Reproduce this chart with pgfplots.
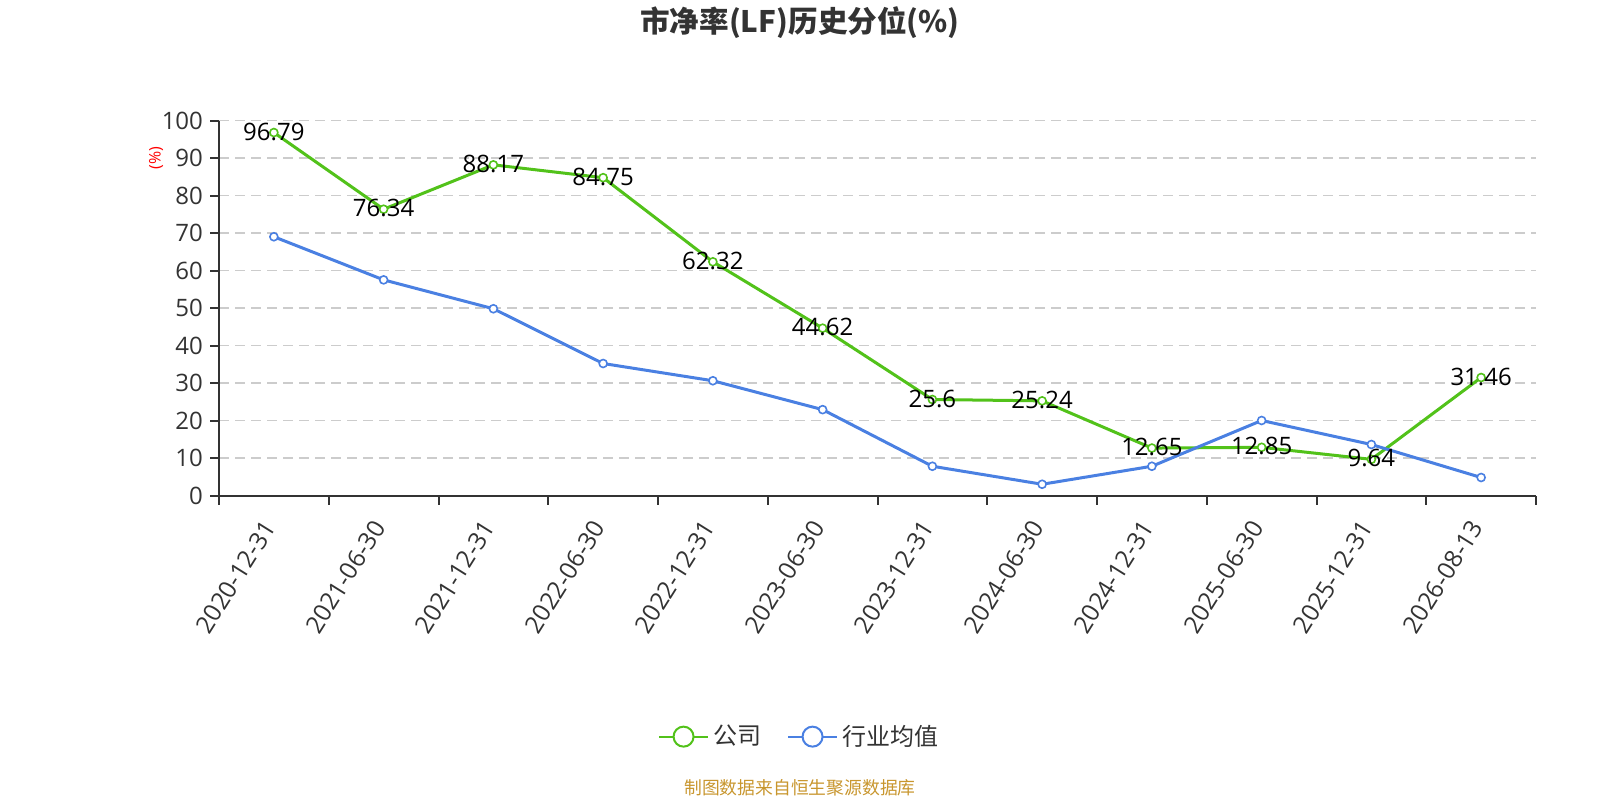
\documentclass[border=0pt]{standalone}
\usepackage{fontspec}
\setmainfont{Open Sans}
\newfontfamily\cjk{Noto Sans CJK SC}
\usepackage{pgfplots}
\pgfplotsset{compat=1.18}
\definecolor{cgreen}{RGB}{82,194,26}
\definecolor{cblue}{RGB}{74,128,226}
\definecolor{axgray}{RGB}{51,51,51}
\definecolor{gridgray}{RGB}{204,204,204}
\definecolor{foot}{RGB}{200,150,46}
\begin{document}
\begin{tikzpicture}
\begin{axis}[
  at={(109.5pt,152.25pt)}, anchor=south west,
  scale only axis, width=658.5pt, height=187.5pt,
  xmin=-0.5, xmax=11.5, ymin=0, ymax=100,
  axis x line*=bottom, axis y line*=left,
  axis line style={axgray, line width=1pt, -},
  tick align=outside,
  xtick={0,...,11},
  xticklabels={2020-12-31,2021-06-30,2021-12-31,2022-06-30,2022-12-31,2023-06-30,2023-12-31,2024-06-30,2024-12-31,2025-06-30,2025-12-31,2026-08-13},
  x tick label style={rotate=58, anchor=east, xshift=-5.5pt, yshift=-3pt, font=\fontsize{12.2}{15}\selectfont, text=axgray},
  major x tick style={draw=none},
  minor xtick={-0.5,0.5,...,11.5},
  minor x tick style={axgray, line width=1pt},
  minor tick length=4.5pt,
  ytick={0,10,...,100},
  y tick label style={font=\fontsize{12}{14}\selectfont, text=axgray},
  major y tick style={axgray, line width=1pt},
  major tick length=4.5pt,
  ymajorgrids,
  major grid style={gridgray, line width=0.6pt, dash pattern=on 5pt off 3pt},
  /pgf/number format/assume math mode=true,
  point meta=explicit symbolic,
  nodes near coords,
  every node near coord/.append style={anchor=center, yshift=0.5pt, font=\fontsize{12}{14}\selectfont, text=black},
  legend style={at={(0.4412,-0.643)}, anchor=center, legend columns=2, draw=none, fill=none,
    font=\cjk\fontsize{12}{14}\selectfont, text=axgray,
    /tikz/every even column/.append style={column sep=11pt}},
  legend image code/.code={
    \draw[#1, line width=1pt] (0pt,0pt) -- (24.5pt,0pt);
    \draw[#1, line width=1pt, fill=white] (12.25pt,0pt) circle (5pt);
  },
  clip=false,
]
\addplot[color=cgreen, line width=1.5pt, mark=*, mark size=2pt, mark options={fill=white, line width=0.8pt}]
  coordinates {(0,96.79)[96.79] (1,76.34)[76.34] (2,88.17)[88.17] (3,84.75)[84.75] (4,62.32)[62.32] (5,44.62)[44.62] (6,25.6)[25.6] (7,25.24)[25.24] (8,12.65)[12.65] (9,12.85)[12.85] (10,9.64)[9.64] (11,31.46)[31.46]};
\addlegendentry{公司}
\addplot[color=cblue, line width=1.5pt, mark=*, mark size=2pt, mark options={fill=white, line width=0.8pt}, nodes near coords={}]
  coordinates {(0,69.0)[] (1,57.5)[] (2,49.8)[] (3,35.2)[] (4,30.6)[] (5,22.9)[] (6,7.8)[] (7,3.0)[] (8,7.8)[] (9,20.0)[] (10,13.6)[] (11,4.8)[]};
\addlegendentry{行业均值}
\end{axis}
\node[rotate=90, text=red, font=\fontsize{8}{9}\selectfont] at (78pt,321pt) {(\%)};
\node[font=\cjk\bfseries\fontsize{14.8}{17}\selectfont, text=axgray] at (400pt,388.75pt) {市净率(LF)历史分位(\%)};
\node[font=\cjk\fontsize{8.9}{10}\selectfont, text=foot] at (400pt,6pt) {制图数据来自恒生聚源数据库};
\pgfresetboundingbox
\path[use as bounding box] (0pt,0pt) rectangle (800pt,400pt);
\end{tikzpicture}
\end{document}
